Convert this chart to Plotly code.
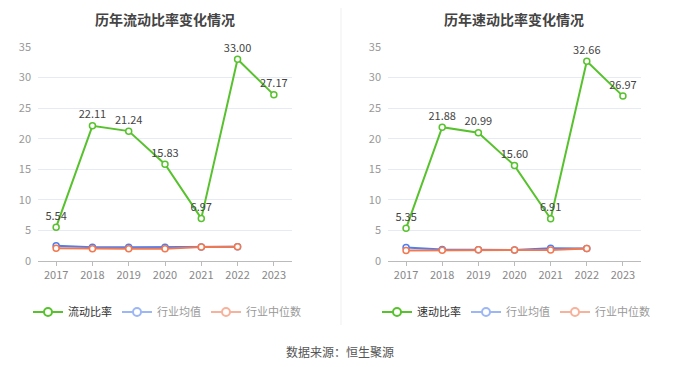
import plotly.graph_objects as go

years = ["2017", "2018", "2019", "2020", "2021", "2022", "2023"]
current_ratio = [5.54, 22.11, 21.24, 15.83, 6.97, 33.00, 27.17]
current_avg = [2.5, 2.25, 2.25, 2.25, 2.3, 2.35, None]
current_med = [2.1, 2.0, 2.0, 2.0, 2.3, 2.35, None]
quick_ratio = [5.35, 21.88, 20.99, 15.60, 6.91, 32.66, 26.97]
quick_avg = [2.2, 1.9, 1.85, 1.8, 2.1, 2.05, None]
quick_med = [1.7, 1.75, 1.85, 1.8, 1.8, 2.05, None]
y_ticks = [0, 5, 10, 15, 20, 25, 30, 35]

FONT = "Noto Sans CJK SC, Noto Sans, sans-serif"
GREEN = "#58c22e"
BLUE = "#4d7ef2"
ORANGE = "#f2784f"
BLUE_L = "#9db7f6"
ORANGE_L = "#f7b29c"

# page body has an 8px margin: figure is placed at (8, 8)
OFF = 8
W = 680.0 - OFF
H = 367.0 - OFF

def px(x):
    return (x - OFF) / W

def py(y):
    return (H - (y - OFF)) / H

fig = go.Figure()

def add_panel(xa, ya, main, avg, med, main_name, leg):
    fig.add_trace(go.Scatter(
        x=years, y=avg, xaxis=xa, yaxis=ya, mode="lines+markers",
        line=dict(color=BLUE, width=2),
        marker=dict(symbol="circle", size=6, color="white", line=dict(color=BLUE, width=1.5)),
        showlegend=False, hoverinfo="skip", cliponaxis=False))
    fig.add_trace(go.Scatter(
        x=years, y=med, xaxis=xa, yaxis=ya, mode="lines+markers",
        line=dict(color=ORANGE, width=2),
        marker=dict(symbol="circle", size=6, color="white", line=dict(color=ORANGE, width=1.5)),
        showlegend=False, hoverinfo="skip", cliponaxis=False))
    fig.add_trace(go.Scatter(
        x=years, y=main, xaxis=xa, yaxis=ya, mode="lines+markers+text",
        line=dict(color=GREEN, width=2),
        marker=dict(symbol="circle", size=6, color="white", line=dict(color=GREEN, width=1.5)),
        text=[f"{v:.2f}" for v in main], textposition="top center",
        textfont=dict(family=FONT, size=11, color="#444"),
        showlegend=False, hoverinfo="skip", cliponaxis=False))
    for name, col, tcol in [(main_name, GREEN, "#333"), ("行业均值", BLUE_L, "#999"), ("行业中位数", ORANGE_L, "#999")]:
        fig.add_trace(go.Scatter(
            x=[None], y=[None], xaxis=xa, yaxis=ya, mode="lines+markers",
            name=f"<span style='color:{tcol}'>{name}</span>",
            line=dict(color=col, width=2),
            marker=dict(symbol="circle", size=8, color="white", line=dict(color=col, width=2)),
            legend=leg))

add_panel("x", "y", current_ratio, current_avg, current_med, "流动比率", "legend")
add_panel("x2", "y2", quick_ratio, quick_avg, quick_med, "速动比率", "legend2")

ydom = [py(261), py(47)]

axis_x = dict(type="category", range=[-0.5, 6.5], showgrid=False, zeroline=False,
              showline=True, linecolor="#bbbbbb", linewidth=1, automargin=False,
              ticks="outside", ticklen=4, tickcolor="#bbbbbb",
              tickfont=dict(family=FONT, size=11, color="#888"))
axis_y = dict(range=[0, 35], tickvals=y_ticks, showgrid=True, gridcolor="#e6eaf4",
              zeroline=False, showline=False, automargin=False,
              tickfont=dict(family=FONT, size=11, color="#999"), ticklabelstandoff=6)

leg_common = dict(orientation="h", y=py(312), yanchor="middle",
                  font=dict(family=FONT, size=11, color="#333"), itemwidth=30,
                  bgcolor="rgba(0,0,0,0)", tracegroupgap=0)

fig.update_layout(
    width=int(W), height=int(H),
    margin=dict(l=0, r=0, t=0, b=0, autoexpand=False),
    paper_bgcolor="white", plot_bgcolor="white",
    font=dict(family=FONT),
    xaxis=dict(axis_x, domain=[px(38), px(292)], anchor="y"),
    yaxis=dict(axis_y, domain=ydom, anchor="x"),
    xaxis2=dict(axis_x, domain=[px(388), px(641)], anchor="y2"),
    yaxis2=dict(axis_y, domain=ydom, anchor="x2"),
    legend=dict(leg_common, x=px(167), xanchor="center"),
    legend2=dict(leg_common, x=px(516), xanchor="center"),
    annotations=[
        dict(text="<b>历年流动比率变化情况</b>", x=px(165), y=py(19), xref="paper", yref="paper",
             showarrow=False, xanchor="center", yanchor="middle",
             font=dict(family=FONT, size=14, color="#444")),
        dict(text="<b>历年速动比率变化情况</b>", x=px(514), y=py(19), xref="paper", yref="paper",
             showarrow=False, xanchor="center", yanchor="middle",
             font=dict(family=FONT, size=14, color="#444")),
        dict(text="数据来源：恒生聚源", x=px(340), y=py(351), xref="paper", yref="paper",
             showarrow=False, xanchor="center", yanchor="middle",
             font=dict(family=FONT, size=12, color="#555")),
    ],
    shapes=[dict(type="line", xref="paper", yref="paper", x0=px(341), x1=px(341),
                 y0=py(325), y1=1, line=dict(color="#efefef", width=1))],
)

fig.write_html("out.html")
